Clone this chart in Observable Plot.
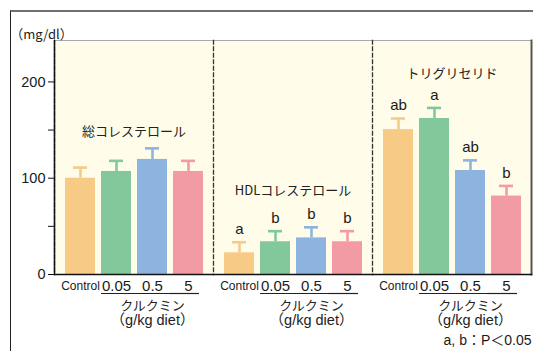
<!DOCTYPE html>
<html>
<head>
<meta charset="utf-8">
<script src="https://cdn.jsdelivr.net/npm/d3@7"></script>
<script src="https://cdn.jsdelivr.net/npm/@observablehq/plot@0.6"></script>
<style>
  html, body { margin: 0; padding: 0; background: #fff; }
  #wrap { position: relative; width: 533px; height: 351px; overflow: hidden; }
  #wrap svg { position: absolute; left: 0; top: 0; }
  #outer { position: absolute; left: 10px; top: 10px; width: 530px; height: 400px;
           border-top: 2px solid #707070; border-left: 1.5px solid #222; pointer-events: none; }
</style>
</head>
<body>
<div id="wrap"><div id="outer"></div></div>
<script>
// ---- data ----
const panels = ["総コレステロール", "HDLコレステロール", "トリグリセリド"];
const groups = ["Control", "0.05", "0.5", "5"];
const colors = ["#F7CB86", "#82C89A", "#8CB4DF", "#F29BA5"];

const tcMean  = [100, 107, 119.5, 107];
const tcErr   = [11, 11, 11.5, 11];
const hdlMean = [22.5, 34, 38, 34];
const hdlErr  = [11, 11, 11, 11];
const tgMean  = [150.5, 162, 108, 81.5];
const tgErr   = [11.5, 11, 10.5, 10.5];

const tcLetters  = ["", "", "", ""];
const hdlLetters = ["a", "b", "b", "b"];
const tgLetters  = ["ab", "a", "ab", "b"];

const yTicks = [0, 50, 100, 150, 200];
const yLabels = [0, 100, 200];
const unitLabel = "（mg/dl）";
const doseLabel = "クルクミン";
const dietLabel = "（g/kg diet）";
const footnote = "a, b：P＜0.05";

// ---- table built from arrays ----
const means = [tcMean, hdlMean, tgMean];
const errs = [tcErr, hdlErr, tgErr];
const letters = [tcLetters, hdlLetters, tgLetters];
const rows = panels.flatMap((p, i) => groups.map((g, j) => ({
  panel: p, group: g, mean: means[i][j], err: errs[i][j], top: means[i][j] + errs[i][j], letter: letters[i][j]
})));

const cream = "#FFFCE9";
const jp = "'Noto Sans CJK JP', sans-serif";
const latin = "'Liberation Sans', Arial, 'Noto Sans CJK JP', sans-serif";

const titleDy = [86, 145, 28];

const chart = Plot.plot({
  width: 533,
  height: 351,
  marginTop: 40,
  marginLeft: 54,
  marginRight: 2,
  marginBottom: 77,
  style: { background: "transparent", fontFamily: latin, color: "#1a1a1a" },
  fx: { domain: panels, padding: 0, axis: null },
  x: { domain: groups, paddingInner: 0.18, paddingOuter: 0.27, axis: null },
  y: { domain: [0, 243], axis: null },
  color: { domain: groups, range: colors },
  marks: [
    Plot.frame({ fill: cream, stroke: null }),
    Plot.frame({ anchor: "top", stroke: "#a8a8a8", strokeWidth: 1 }),
    Plot.frame({ anchor: "left", stroke: "#333", strokeWidth: 1.3, strokeDasharray: "3.5,3" }),
    Plot.frame({ anchor: "left", stroke: "#111", strokeWidth: 1.5, facetAnchor: "left" }),
    Plot.frame({ anchor: "right", stroke: "#555", strokeWidth: 2, facetAnchor: "right" }),
    Plot.barY(rows, { fx: "panel", x: "group", y: "mean", fill: "group" }),
    Plot.ruleX(rows, { fx: "panel", x: "group", y1: "mean", y2: "top", stroke: "group", strokeWidth: 2.6 }),
    Plot.tickY(rows, { fx: "panel", x: "group", y: "top", stroke: "group", strokeWidth: 2.6, insetLeft: 8, insetRight: 8 }),
    Plot.text(rows, { fx: "panel", x: "group", y: "top", text: "letter", dy: -13, fontSize: 15, fill: "#1a1a1a" }),
    Plot.frame({ anchor: "bottom", stroke: "#111", strokeWidth: 1.5 }),
    // panel titles
    ...panels.map((p, i) => Plot.text([p], {
      fx: d => d, text: d => d, frameAnchor: "top", dy: titleDy[i],
      fontSize: 13, fontFamily: jp, fill: "#222"
    })),
    // y axis
    Plot.axisY({ ticks: yTicks, tickSize: 6, tickPadding: 3, tickFormat: d => yLabels.includes(d) ? d : "",
      fontSize: 14.5, stroke: "#111", fill: "#1a1a1a" }),
    Plot.text([unitLabel], { text: d => d, frameAnchor: "top-left", textAnchor: "middle", dx: -13, dy: -11,
      fontSize: 13, fontFamily: jp, fill: "#222", facetAnchor: "left" }),
    // x tick labels
    Plot.text(rows.filter(d => d.group === "Control"), { fx: "panel", x: "group", y: 0, dy: 12, text: "group",
      fontSize: 12, fontFamily: "'Liberation Sans Narrow', 'Liberation Sans', sans-serif", fontStretch: "condensed", fill: "#1a1a1a" }),
    Plot.text(rows.filter(d => d.group !== "Control"), { fx: "panel", x: "group", y: 0, dy: 12, text: "group",
      fontSize: 15, fill: "#1a1a1a" }),
    // underline for dose groups
    Plot.tickY(rows.filter(d => d.group === "0.05"), { fx: "panel", x: "group", y: 0, dy: 19, stroke: "#222", strokeWidth: 1.2, insetLeft: 0, insetRight: -3.5 }),
    Plot.tickY(rows.filter(d => d.group === "0.5"), { fx: "panel", x: "group", y: 0, dy: 19, stroke: "#222", strokeWidth: 1.2, insetLeft: -3.5, insetRight: -3.5 }),
    Plot.tickY(rows.filter(d => d.group === "5"), { fx: "panel", x: "group", y: 0, dy: 19, stroke: "#222", strokeWidth: 1.2, insetLeft: -3.5, insetRight: 4 }),
    Plot.text(rows.filter(d => d.group === "0.5"), { fx: "panel", x: "group", y: 0, dy: 31, text: () => doseLabel,
      fontSize: 13, fontFamily: jp, fill: "#222" }),
    Plot.text(rows.filter(d => d.group === "0.5"), { fx: "panel", x: "group", y: 0, dy: 46, text: () => dietLabel,
      fontSize: 14.5, fontFamily: latin, fill: "#222" }),
    Plot.text([footnote], { text: d => d, frameAnchor: "bottom-right", dx: 0, dy: 70, textAnchor: "end",
      fontSize: 14, fill: "#1a1a1a", facetAnchor: "right" })
  ]
});
document.getElementById("wrap").insertBefore(chart, document.getElementById("outer"));
</script>
</body>
</html>
